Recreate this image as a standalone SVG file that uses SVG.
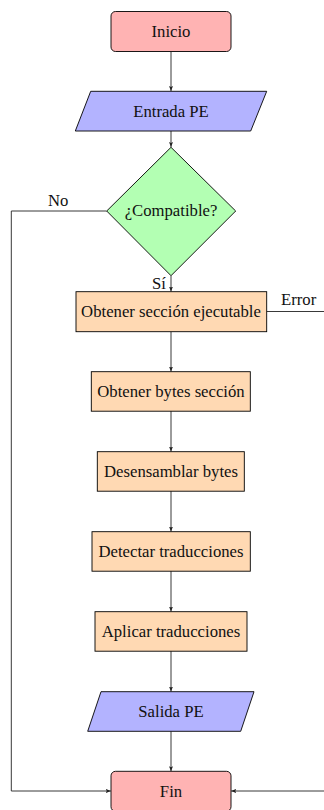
<svg xmlns="http://www.w3.org/2000/svg" width="324" height="810" viewBox="0 0 324 810">
<style>
.n{stroke:#000;stroke-width:0.9}
.t{font-family:"Liberation Serif","Times New Roman",serif;font-size:16.7px;fill:#111;text-anchor:middle}
.l{font-family:"Liberation Serif","Times New Roman",serif;font-size:16.7px;fill:#111}
.c{fill:none;stroke:#222;stroke-width:0.9}
.term{fill:#ffb3b3}
.io{fill:#b3b3ff}
.dec{fill:#b3ffb3}
.proc{fill:#ffd9b3}
</style>
<defs>
<marker id="ah" viewBox="0 0 8 8" refX="8" refY="4" markerWidth="5" markerHeight="5" markerUnits="userSpaceOnUse" orient="auto">
<path d="M0,0.8 L8,4 L0,7.2 L1.6,4 Z" fill="#222"/>
</marker>
</defs>
<g id="connectors">
<line class="c" x1="171" y1="51.7" x2="171" y2="91" marker-end="url(#ah)"/>
<line class="c" x1="171" y1="131" x2="171" y2="147" marker-end="url(#ah)"/>
<line class="c" x1="171" y1="275.7" x2="171" y2="291.5" marker-end="url(#ah)"/>
<line class="c" x1="171" y1="331.7" x2="171" y2="371.5" marker-end="url(#ah)"/>
<line class="c" x1="171" y1="411" x2="171" y2="451.5" marker-end="url(#ah)"/>
<line class="c" x1="171" y1="491" x2="171" y2="531.5" marker-end="url(#ah)"/>
<line class="c" x1="171" y1="571" x2="171" y2="611.5" marker-end="url(#ah)"/>
<line class="c" x1="171" y1="651" x2="171" y2="691.5" marker-end="url(#ah)"/>
<line class="c" x1="171" y1="731.3" x2="171" y2="771.2" marker-end="url(#ah)"/>
<polyline class="c" points="106.7,211 11.3,211 11.3,791 110.8,791" marker-end="url(#ah)"/>
<line class="c" x1="266.7" y1="311.5" x2="324" y2="311.5"/>
<line class="c" x1="324" y1="791" x2="231.2" y2="791" marker-end="url(#ah)"/>
<text class="l" x="48" y="205.5">No</text>
<text class="l" x="152" y="289">Sí</text>
<text class="l" x="281" y="305">Error</text>
</g>
<g id="inicio">
<rect class="n term" x="111" y="11.5" width="120" height="40" rx="4.5"/>
<text class="t" x="171" y="37">Inicio</text>
</g>
<g id="entrada">
<polygon class="n io" points="90.7,91.3 266.7,91.3 250.7,131 75.3,131"/>
<text class="t" x="171" y="117">Entrada PE</text>
</g>
<g id="compatible">
<polygon class="n dec" points="171,147.3 235.7,211 171,275.7 106.7,211"/>
<text class="t" x="171" y="216">¿Compatible?</text>
</g>
<g id="seccion">
<rect class="n proc" x="76" y="291.7" width="190.7" height="40"/>
<text class="t" x="171" y="316.5">Obtener sección ejecutable</text>
</g>
<g id="bytes">
<rect class="n proc" x="91.3" y="371.7" width="159" height="39.5"/>
<text class="t" x="171" y="396.5">Obtener bytes sección</text>
</g>
<g id="desensamblar">
<rect class="n proc" x="97.3" y="451.7" width="147" height="39.5"/>
<text class="t" x="171" y="476.5">Desensamblar bytes</text>
</g>
<g id="detectar">
<rect class="n proc" x="92" y="531.7" width="158.3" height="39.5"/>
<text class="t" x="171" y="556.5">Detectar traducciones</text>
</g>
<g id="aplicar">
<rect class="n proc" x="95" y="611.7" width="152" height="39.5"/>
<text class="t" x="171" y="636.5">Aplicar traducciones</text>
</g>
<g id="salida">
<polygon class="n io" points="101,691.7 254,691.7 240.7,731.3 87.7,731.3"/>
<text class="t" x="171" y="717">Salida PE</text>
</g>
<g id="fin">
<rect class="n term" x="111" y="771.3" width="120" height="40" rx="4.5"/>
<text class="t" x="171" y="796.5">Fin</text>
</g>
</svg>
